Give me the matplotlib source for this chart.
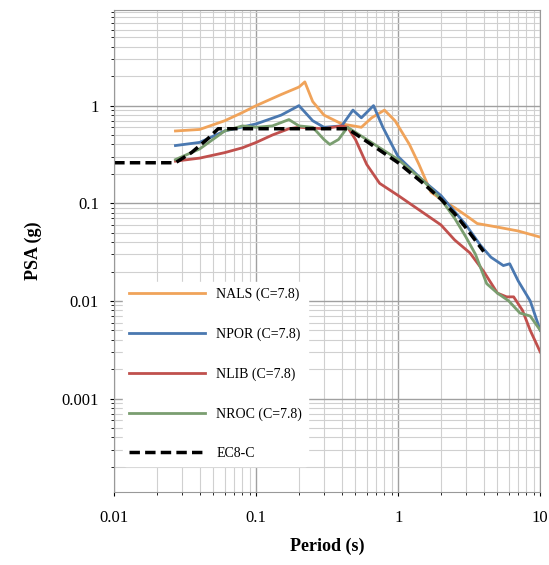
import matplotlib
matplotlib.use("Agg")
import matplotlib.pyplot as plt
from matplotlib.ticker import FixedLocator, FixedFormatter, LogLocator, NullFormatter

plt.rcParams["font.family"] = ["Liberation Serif", "DejaVu Serif"]

# spectra (period in s, PSA in g)
t_nals = [0.027, 0.04, 0.06, 0.08, 0.1, 0.15, 0.2, 0.22, 0.25, 0.3, 0.4, 0.55, 0.65, 0.8,
          0.95, 1.2, 1.4, 1.7, 2.0, 2.5, 3.0, 3.6, 5.0, 7.0, 10.0]
psa_nals = [0.55, 0.57, 0.7, 0.85, 1.0, 1.3, 1.55, 1.75, 1.1, 0.8, 0.65, 0.6, 0.75, 0.9,
            0.7, 0.4, 0.25, 0.13, 0.11, 0.09, 0.075, 0.062, 0.057, 0.052, 0.045]

t_npor = [0.027, 0.04, 0.06, 0.1, 0.15, 0.2, 0.25, 0.3, 0.4, 0.48, 0.55, 0.67, 0.78, 0.9,
          1.0, 1.5, 2.0, 3.0, 3.8, 4.5, 5.5, 6.1, 7.0, 8.5, 10.0]
psa_npor = [0.39, 0.42, 0.55, 0.65, 0.8, 1.0, 0.7, 0.6, 0.62, 0.9, 0.75, 1.0, 0.6, 0.4,
            0.3, 0.17, 0.12, 0.06, 0.037, 0.028, 0.023, 0.024, 0.016, 0.01, 0.005]

t_nlib = [0.027, 0.04, 0.06, 0.08, 0.1, 0.13, 0.17, 0.2, 0.3, 0.4, 0.44, 0.5, 0.6, 0.74,
          1.0, 1.5, 2.0, 2.5, 3.2, 4.0, 5.0, 5.8, 6.5, 7.5, 8.5, 10.0]
psa_nlib = [0.27, 0.29, 0.33, 0.37, 0.42, 0.5, 0.58, 0.6, 0.58, 0.62, 0.6, 0.45, 0.25, 0.16,
            0.12, 0.08, 0.06, 0.042, 0.031, 0.02, 0.012, 0.011, 0.011, 0.008, 0.005, 0.003]

t_nroc = [0.027, 0.04, 0.06, 0.08, 0.1, 0.13, 0.17, 0.2, 0.25, 0.3, 0.33, 0.38, 0.44, 0.6,
          1.0, 1.5, 2.0, 2.5, 3.0, 3.5, 4.2, 5.0, 6.0, 7.2, 8.5, 10.0]
psa_nroc = [0.28, 0.36, 0.55, 0.62, 0.6, 0.62, 0.72, 0.62, 0.6, 0.45, 0.4, 0.45, 0.6, 0.45,
            0.28, 0.17, 0.11, 0.07, 0.045, 0.03, 0.015, 0.012, 0.01, 0.0075, 0.007, 0.005]

t_ec8 = [0.01, 0.02, 0.027, 0.035, 0.045, 0.054, 0.1, 0.2, 0.44, 0.6, 1.0, 1.5, 2.0, 2.5,
         3.0, 4.0]
psa_ec8 = [0.26, 0.26, 0.26, 0.33, 0.45, 0.58, 0.58, 0.58, 0.58, 0.43, 0.26, 0.16, 0.11,
           0.078, 0.056, 0.032]

fig = plt.figure(figsize=(5.49, 5.65), dpi=100)
ax = fig.add_axes([0.208, 0.129, 0.776, 0.853])

ax.plot(t_nals, psa_nals, color="#f0a35a", lw=2, label="NALS (C=7.8)")
ax.plot(t_npor, psa_npor, color="#4a78b0", lw=2, label="NPOR (C=7.8)")
ax.plot(t_nlib, psa_nlib, color="#c0504d", lw=2, label="NLIB (C=7.8)")
ax.plot(t_nroc, psa_nroc, color="#7a9e70", lw=2, label="NROC (C=7.8)")
ax.plot(t_ec8, psa_ec8, color="black", lw=2.5, ls=(0, (3, 1.5)), label="EC8-C")

ax.set_xscale("log")
ax.set_yscale("log")
ax.set_xlim(0.01, 10)
ax.set_ylim(1.1e-4, 9.5)

ax.xaxis.set_major_locator(FixedLocator([0.01, 0.1, 1, 10]))
ax.xaxis.set_major_formatter(FixedFormatter(["0.01", "0.1", "1", "10"]))
ax.yaxis.set_major_locator(FixedLocator([0.001, 0.01, 0.1, 1]))
ax.yaxis.set_major_formatter(FixedFormatter(["0.001", "0.01", "0.1", "1"]))
for axis in (ax.xaxis, ax.yaxis):
    axis.set_minor_locator(LogLocator(base=10, subs=range(2, 10)))
    axis.set_minor_formatter(NullFormatter())

ax.grid(True, which="major", color="#a0a0a0", lw=1.0)
ax.grid(True, which="minor", color="#d0d0d0", lw=0.8)
ax.tick_params(labelsize=12, length=3)
ax.tick_params(axis="x", pad=10)
ax.tick_params(axis="y", pad=8)
for s in ax.spines.values():
    s.set_color("#999999")

ax.set_xlabel("Period (s)", fontsize=13, fontweight="bold", labelpad=8)
ax.set_ylabel("PSA (g)", fontsize=13, fontweight="bold", labelpad=14)

leg = ax.legend(loc="lower left", fontsize=10, frameon=True, framealpha=1,
                edgecolor="white", labelspacing=1.9, handlelength=5.5,
                bbox_to_anchor=(0.005, 0.04))

fig.savefig("out.png", dpi=100)
